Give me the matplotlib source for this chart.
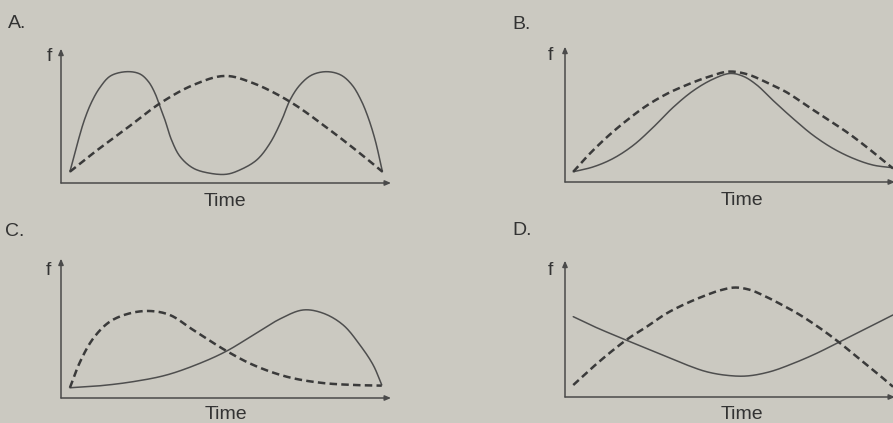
import matplotlib
matplotlib.use("Agg")
import matplotlib.pyplot as plt
import numpy as np

# ---- curve readings: time and f in arbitrary units (0-100) ----

# A: solid curve has two humps, dashed is one broad arch
a_solid_t = [2.7, 5.0, 7.1, 9.3, 11.8, 15.0, 19.9, 23.9, 26.5, 28.5, 30.0, 31.5, 33.5, 36.1,
             40.1, 45.2, 50.2, 54.2, 59.3, 63.3, 66.9, 69.4, 72.4, 76.0, 80.5, 84.8, 88.2,
             90.9, 93.0, 95.2, 97.4]
a_solid_f = [8.5, 30.0, 47.5, 61.0, 71.8, 80.5, 83.7, 82.0, 76.2, 67.4, 57.4, 47.4, 32.3, 19.8,
             11.1, 7.3, 6.6, 9.8, 17.3, 29.8, 47.4, 62.4, 73.7, 81.2, 83.7, 81.2, 73.7,
             62.4, 49.8, 32.3, 8.5]
a_dash_t = [2.7, 9.8, 19.9, 30.0, 40.1, 49.7, 58.3, 69.4, 81.5, 90.6, 97.4]
a_dash_f = [8.5, 22.5, 41.1, 59.9, 73.7, 80.5, 75.0, 61.1, 39.8, 22.3, 8.5]

# B: both bell shaped, dashed slightly wider
b_solid_t = [2.5, 8.6, 14.6, 20.7, 26.8, 32.8, 38.9, 44.9, 50.0, 54.0, 58.1, 63.1, 69.2,
             75.2, 81.3, 87.4, 93.4, 99.4]
b_solid_f = [7.7, 11.4, 17.7, 27.6, 41.3, 56.2, 68.7, 77.4, 81.6, 79.5, 73.0, 61.2, 47.5,
             35.1, 25.1, 17.7, 12.7, 10.7]
b_dash_t = [2.5, 6.6, 12.6, 18.7, 24.8, 30.8, 36.9, 42.9, 49.5, 55.1, 61.1, 67.2, 73.2,
            79.3, 85.4, 91.4, 97.5, 99.4]
b_dash_f = [7.7, 19.0, 33.5, 46.3, 57.5, 66.2, 73.0, 78.6, 83.0, 81.1, 74.9, 67.4, 57.5,
            47.5, 37.5, 26.3, 14.0, 10.2]

# C: dashed peaks early, solid peaks late
c_solid_t = [2.7, 11.8, 21.9, 32.0, 42.1, 50.2, 58.3, 66.4, 73.4, 79.5, 85.5, 90.6, 94.6, 97.2]
c_solid_f = [7.7, 9.2, 12.3, 17.3, 26.1, 35.3, 47.4, 59.5, 66.2, 63.7, 54.9, 39.8, 24.8, 9.8]
c_dash_t = [2.7, 5.8, 9.8, 14.8, 20.9, 27.0, 33.0, 40.1, 50.2, 58.3, 68.4, 78.5, 88.6, 97.2]
c_dash_f = [7.7, 27.3, 44.9, 57.4, 63.7, 65.4, 62.4, 51.1, 35.3, 24.8, 16.0, 11.5, 9.8, 9.3]

# D: solid dips in the middle while dashed rises
d_solid_t = [2.5, 8.6, 14.6, 18.7, 24.8, 30.8, 36.9, 42.9, 49.0, 55.1, 62.1, 69.2, 76.3,
             83.3, 90.4, 99.4]
d_solid_f = [60.4, 53.2, 46.8, 42.6, 36.4, 30.3, 24.1, 19.0, 16.3, 15.8, 19.0, 25.3, 32.9,
             41.6, 50.4, 61.7]
d_dash_t = [2.5, 8.6, 14.6, 19.2, 24.8, 30.8, 36.9, 42.9, 47.0, 51.5, 56.0, 60.0, 65.2,
            71.2, 77.3, 82.8, 88.4, 93.4, 99.4]
d_dash_f = [9.0, 22.8, 35.3, 44.0, 52.9, 62.9, 70.5, 76.7, 80.2, 82.3, 80.6, 76.5, 70.0,
            61.7, 51.7, 41.6, 30.3, 20.3, 7.7]

panel_labels = ["A.", "B.", "C.", "D."]
x_label = "Time"
y_label = "f"

PX_T, PX_F = 3.3, 1.33   # pixels per unit of time and of f


def smooth(t, f, n=16):
    """Centripetal Catmull-Rom curve through the read points."""
    P = np.column_stack([np.asarray(t) * PX_T, np.asarray(f) * PX_F])
    P = np.vstack([2 * P[0] - P[1], P, 2 * P[-1] - P[-2]])
    parts = []
    for i in range(1, len(P) - 2):
        p0, p1, p2, p3 = P[i - 1], P[i], P[i + 1], P[i + 2]
        k0 = 0.0
        k1 = k0 + np.linalg.norm(p1 - p0) ** 0.5
        k2 = k1 + np.linalg.norm(p2 - p1) ** 0.5
        k3 = k2 + np.linalg.norm(p3 - p2) ** 0.5
        u = np.linspace(k1, k2, n, endpoint=False)[:, None]
        a1 = (k1 - u) / (k1 - k0) * p0 + (u - k0) / (k1 - k0) * p1
        a2 = (k2 - u) / (k2 - k1) * p1 + (u - k1) / (k2 - k1) * p2
        a3 = (k3 - u) / (k3 - k2) * p2 + (u - k2) / (k3 - k2) * p3
        b1 = (k2 - u) / (k2 - k0) * a1 + (u - k0) / (k2 - k0) * a2
        b2 = (k3 - u) / (k3 - k1) * a2 + (u - k1) / (k3 - k1) * a3
        parts.append((k2 - u) / (k2 - k1) * b1 + (u - k1) / (k2 - k1) * b2)
    parts.append(P[-2:-1])
    c = np.vstack(parts)
    return c[:, 0] / PX_T, c[:, 1] / PX_F


W, H = 893, 423
bg = "#cbc9c1"
ink = "#333333"
fig = plt.figure(figsize=(W / 100, H / 100), dpi=100, facecolor=bg)
plt.rcParams["font.family"] = ["Liberation Sans", "DejaVu Sans"]

# panel boxes in pixels: left, x-axis row, width, height
boxes = [(61, 183, 330, 133), (565, 182, 330, 134), (61, 398, 330, 138), (565, 397, 330, 135)]
# text anchors in pixels (x, baseline) for letter, f and Time
letter_pos = [(8, 28.5), (512, 29), (5, 236), (512, 235)]
f_pos = [(49, 61), (550, 60), (48, 275), (550, 275)]
time_pos = [(225, 205.5), (742, 205), (226, 419), (742, 419)]
curves = [(a_solid_t, a_solid_f, a_dash_t, a_dash_f),
          (b_solid_t, b_solid_f, b_dash_t, b_dash_f),
          (c_solid_t, c_solid_f, c_dash_t, c_dash_f),
          (d_solid_t, d_solid_f, d_dash_t, d_dash_f)]


def fx(px):
    return px / W


def fy(py):
    return 1 - py / H


for i, ((left, base, w, h), (st, sf, dt, df)) in enumerate(zip(boxes, curves)):
    ax = fig.add_axes([left / W, (H - base) / H, w / W, h / H])
    ax.set_facecolor("none")
    ax.set_xlim(0, w / PX_T)
    ax.set_ylim(0, h / PX_F)
    for side in ["top", "right", "left", "bottom"]:
        ax.spines[side].set_visible(False)
    ax.set_xticks([])
    ax.set_yticks([])

    # axes with arrow heads
    ax.annotate("", xy=(0, 1.01), xytext=(0, 0), xycoords="axes fraction",
                arrowprops=dict(arrowstyle="-|>,head_length=0.35,head_width=0.15",
                                color="#4a4a4a", lw=1.1, shrinkA=0, shrinkB=0))
    ax.annotate("", xy=(1.0, 0), xytext=(0, 0), xycoords="axes fraction",
                arrowprops=dict(arrowstyle="-|>,head_length=0.35,head_width=0.15",
                                color="#4a4a4a", lw=1.1, shrinkA=0, shrinkB=0))

    sx, sy = smooth(st, sf)
    ax.plot(sx, sy, color="#4e4e4e", lw=1.1, solid_capstyle="round", clip_on=False)
    qx, qy = smooth(dt, df)
    ax.plot(qx, qy, color="#3a3a3a", lw=1.8, linestyle=(0, (3, 1.7)), clip_on=False)

    # panel letter, axis names
    lx, ly = letter_pos[i]
    fig.text(fx(lx), fy(ly), panel_labels[i], fontsize=14, color=ink, ha="left", va="baseline")
    px, py = f_pos[i]
    fig.text(fx(px), fy(py), y_label, fontsize=14, color=ink, ha="center", va="baseline")
    tx, ty = time_pos[i]
    fig.text(fx(tx), fy(ty), x_label, fontsize=14, color=ink, ha="center", va="baseline")

fig.savefig("out.png", dpi=100, facecolor=bg)
